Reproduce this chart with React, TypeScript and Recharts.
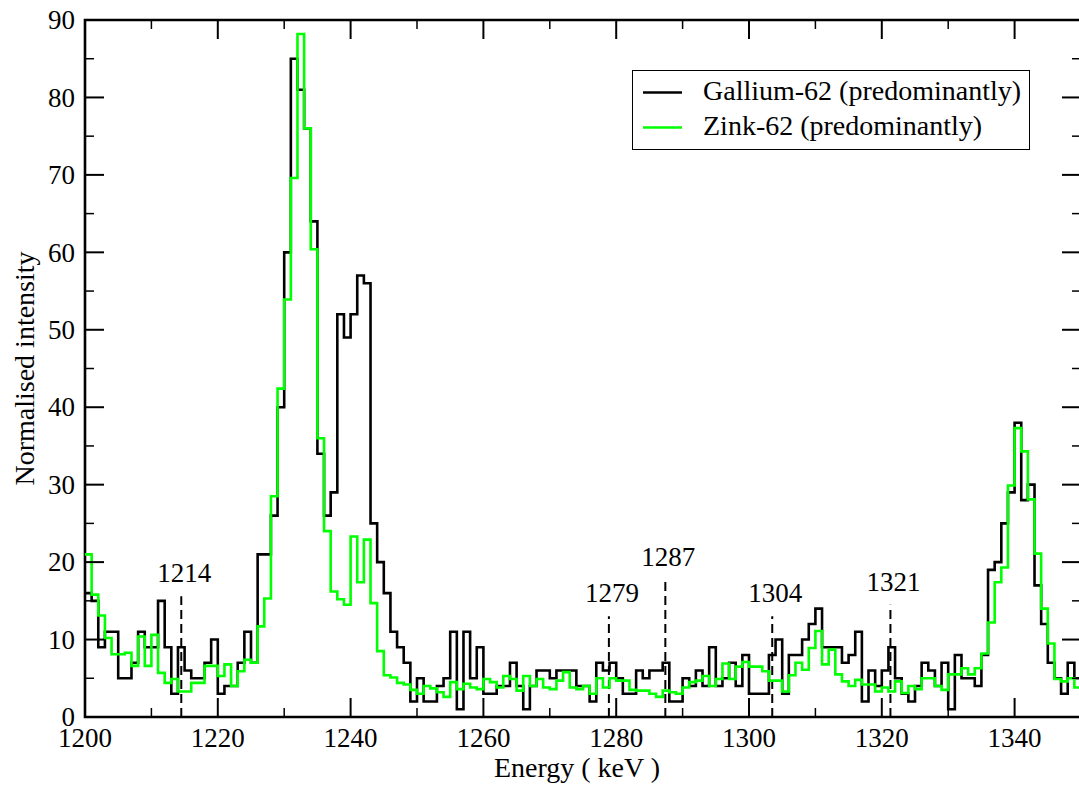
import React from 'react';
import { LineChart, Line, XAxis, YAxis, ReferenceArea, ReferenceLine, Legend } from 'recharts';

// ---- data (1 keV bins, left edge = binStart + index) ----
const binStart = 1200;
const binEnd = 1350;

const gallium62 = [
  16, 15, 9, 11, 11, 5, 5, 7, 11, 9,
  9, 15, 9, 3, 9, 6, 5, 5, 7, 10,
  3, 4, 4, 7, 11, 7, 21, 21, 26, 40,
  60, 85, 81, 76, 64, 34, 26, 29, 52, 49,
  52, 57, 56, 25, 20, 16, 11, 9, 7, 2,
  5, 2, 2, 4, 5, 11, 1, 11, 5, 9,
  3, 3, 4, 4, 7, 4, 1, 4, 6, 6,
  5, 6, 6, 6, 4, 4, 2, 7, 6, 7,
  5, 3, 3, 6, 5, 6, 6, 7, 2, 2,
  5, 4, 6, 4, 9, 4, 5, 7, 4, 8,
  3, 3, 3, 8, 10, 3, 8, 8, 10, 12,
  14, 9, 9, 9, 7, 8, 11, 2, 6, 4,
  6, 9, 5, 3, 2, 4, 7, 6, 4, 7,
  1, 8, 5, 5, 4, 8, 19, 20, 25, 29,
  38, 28, 30, 17, 12, 7, 5, 3, 7, 5,
];

const zink62 = [
  21, 15.8, 13.1, 10.2, 8.1, 8.1, 8.3, 6.6, 10.4, 6.6,
  10.6, 5.7, 4.4, 4.9, 3.3, 3.3, 4.4, 4.4, 6.6, 6.6,
  5.3, 6.8, 4.0, 5.9, 7.4, 7.0, 11.7, 15.3, 28.5, 42.4,
  53.9, 69.6, 88.2, 76, 60.4, 36, 24, 16.2, 15.2, 14.5,
  23.3, 17.4, 22.9, 14.7, 8.5, 5.4, 5.1, 4.4, 4.2, 3.5,
  3, 4, 3.7, 3.2, 2.6, 4.5, 3.6, 4.3, 3.8, 3.6,
  4.9, 4.5, 3.8, 5.3, 4.9, 3.4, 5.3, 4, 4.9, 3.8,
  3.6, 4.7, 5.8, 3.8, 3.6, 4, 3, 5, 3.8, 5,
  4.7, 4.7, 3.5, 3.4, 3.4, 3, 2.6, 3.4, 3.2, 3,
  3.8, 4.5, 4.7, 5.3, 4, 4.9, 6.9, 4.9, 6.5, 7.1,
  6.5, 6.5, 5.9, 4.7, 4.7, 3.3, 5.4, 7.0, 6.1, 8.9,
  11.1, 6.8, 8.7, 5.5, 4.6, 4.0, 4.8, 4.2, 4.2, 3.3,
  3.8, 3.3, 4.6, 3.1, 4, 3.6, 5, 5, 4, 3.5,
  5.5, 5.5, 6.3, 5.5, 6.3, 8.2, 12.2, 17.4, 19.3, 29.9,
  37.3, 34.3, 28.1, 21.1, 14, 9.5, 4.9, 4.6, 5, 3.8,
];

const xTicks = [1200, 1210, 1220, 1230, 1240, 1250, 1260, 1270, 1280, 1290, 1300, 1310, 1320, 1330, 1340, 1350];
const xTickLabels = [1200, 1220, 1240, 1260, 1280, 1300, 1320, 1340];
const yTicks = [0, 5, 10, 15, 20, 25, 30, 35, 40, 45, 50, 55, 60, 65, 70, 75, 80, 85, 90];
const yTickLabels = [0, 10, 20, 30, 40, 50, 60, 70, 80, 90];

const markerEnergies = [1214.5, 1278.9, 1287.4, 1303.5, 1321.3];
const markerHeights = [15.6, 13, 17.7, 13, 14.5];
const markerLabels = ['1214', '1279', '1287', '1304', '1321'];

const data = gallium62.map((g, i) => ({ e: binStart + i, ga: g, zn: zink62[i] }));
data.push({ e: binEnd, ga: gallium62[gallium62.length - 1], zn: zink62[zink62.length - 1] });

// ---- layout ----
const W = 1082;
const H = 787;
const PLOT_LEFT = 85;
const PLOT_TOP = 20;
const PLOT_RIGHT = 1081;
const X_AXIS_H = 70;
const PLOT_BOTTOM = H - X_AXIS_H;
const FONT = '"Liberation Serif", "Times New Roman", Times, serif';
const FS = 27;
const TITLE_FS = 28;
const LEGEND_FS = 28;
const GREEN = '#00ff00';

const XTick = (props: any) => {
  const { x, payload } = props;
  const v = payload.value;
  const major = xTickLabels.includes(v);
  const len = major ? 19 : 9;
  const sw = major ? 2 : 1.5;
  return (
    <g>
      <line x1={x} x2={x} y1={PLOT_BOTTOM} y2={PLOT_BOTTOM - len} stroke="#000" strokeWidth={sw} />
      <line x1={x} x2={x} y1={PLOT_TOP} y2={PLOT_TOP + len} stroke="#000" strokeWidth={sw} />
      {major && (
        <text x={x} y={PLOT_BOTTOM + 30} textAnchor="middle" fontSize={FS} fontFamily={FONT} fill="#000">
          {v}
        </text>
      )}
    </g>
  );
};

const YTick = (props: any) => {
  const { y, payload } = props;
  const v = payload.value;
  const major = yTickLabels.includes(v);
  const len = major ? 19 : 9;
  const sw = major ? 2 : 1.5;
  return (
    <g>
      <line x1={PLOT_LEFT} x2={PLOT_LEFT + len} y1={y} y2={y} stroke="#000" strokeWidth={sw} />
      <line x1={PLOT_RIGHT} x2={PLOT_RIGHT - len} y1={y} y2={y} stroke="#000" strokeWidth={sw} />
      {major && (
        <text x={PLOT_LEFT - 10} y={y} dy="0.34em" textAnchor="end" fontSize={FS} fontFamily={FONT} fill="#000">
          {v}
        </text>
      )}
    </g>
  );
};

const LegendBox = (props: any) => {
  const payload = props.payload || [];
  return (
    <div style={{ border: '1.5px solid #000', background: '#fff', width: 398, height: 80, boxSizing: 'border-box' }}>
      <svg width={395} height={77} style={{ display: 'block' }}>
        {payload.map((p: any, i: number) => (
          <g key={p.value}>
            <line x1={10} x2={49} y1={21.5 + i * 35} y2={21.5 + i * 35} stroke={p.color} strokeWidth={2.5} />
            <text x={70} y={28.5 + i * 35} fontSize={LEGEND_FS} fontFamily={FONT} fill="#000">
              {p.value}
            </text>
          </g>
        ))}
      </svg>
    </div>
  );
};

const markerLabel = (text: string) => (p: any) => {
  const vb = p.viewBox || {};
  return (
    <text x={vb.x + (vb.width || 0) / 2 + 3} y={vb.y - 14} textAnchor="middle" fontSize={FS} fontFamily={FONT} fill="#000">
      {text}
    </text>
  );
};

const X_TITLE_X = (PLOT_LEFT + PLOT_RIGHT) / 2 - 6;
const Y_TITLE_Y = (PLOT_TOP + PLOT_BOTTOM) / 2;

export default function App() {
  return (
    <div style={{ position: 'fixed', left: 0, top: 0, width: 1079, height: 787, overflow: 'hidden', background: '#fff' }}>
      <LineChart width={W} height={H} data={data} margin={{ top: PLOT_TOP, right: W - PLOT_RIGHT, bottom: 0, left: 0 }}>
        <XAxis
          type="number"
          dataKey="e"
          domain={[binStart, binEnd]}
          ticks={xTicks}
          interval={0}
          tick={XTick}
          tickLine={false}
          axisLine={false}
          tickSize={0}
          height={X_AXIS_H}
          allowDataOverflow
          label={() => (
            <text x={X_TITLE_X} y={777} textAnchor="middle" fontSize={TITLE_FS} fontFamily={FONT} fill="#000">
              Energy ( keV )
            </text>
          )}
        />
        <YAxis
          type="number"
          domain={[0, 90]}
          ticks={yTicks}
          interval={0}
          tick={YTick}
          tickLine={false}
          axisLine={false}
          tickSize={0}
          width={PLOT_LEFT}
          allowDataOverflow
          label={() => (
            <text
              x={34}
              y={Y_TITLE_Y}
              transform={`rotate(-90 34 ${Y_TITLE_Y})`}
              textAnchor="middle"
              fontSize={TITLE_FS}
              fontFamily={FONT}
              fill="#000"
            >
              Normalised intensity
            </text>
          )}
        />
        <ReferenceArea x1={binStart} x2={binEnd} y1={0} y2={90} fill="none" stroke="#000" strokeWidth={2.6} ifOverflow="visible" />
        {markerEnergies.map((e, i) => (
          <ReferenceLine
            key={markerLabels[i]}
            segment={[{ x: e, y: 0 }, { x: e, y: markerHeights[i] }]}
            stroke="#000"
            strokeWidth={2}
            strokeDasharray="9 5"
            ifOverflow="visible"
            label={markerLabel(markerLabels[i])}
          />
        ))}
        <Line
          type="stepAfter"
          dataKey="ga"
          name="Gallium-62 (predominantly)"
          stroke="#000"
          strokeWidth={2.6}
          dot={false}
          activeDot={false}
          isAnimationActive={false}
        />
        <Line
          type="stepAfter"
          dataKey="zn"
          name="Zink-62 (predominantly)"
          stroke={GREEN}
          strokeWidth={2.6}
          dot={false}
          activeDot={false}
          isAnimationActive={false}
        />
        <Legend
          layout="horizontal"
          verticalAlign="middle"
          align="center"
          content={LegendBox}
          wrapperStyle={{ left: 632, top: 70, width: 398, height: 80 }}
        />
      </LineChart>
    </div>
  );
}
